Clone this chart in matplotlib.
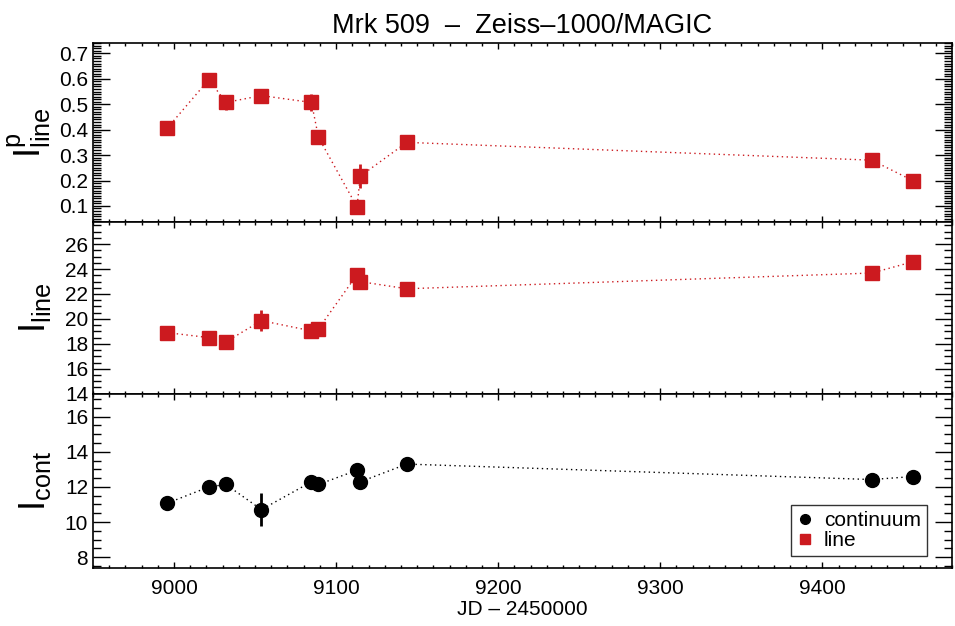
import matplotlib
matplotlib.use("Agg")
import matplotlib.pyplot as plt
from matplotlib.ticker import MultipleLocator
from matplotlib.lines import Line2D

plt.rcParams['font.family'] = ['Liberation Sans', 'DejaVu Sans']

# Dados (JD - 2450000)
jd = [8995.7, 9021.5, 9032.0, 9053.9, 9084.8, 9089.1, 9112.9, 9114.9, 9143.6, 9430.5, 9455.7]

pol_line = [0.405, 0.597, 0.507, 0.534, 0.507, 0.370, 0.096, 0.217, 0.350, 0.280, 0.200]
pol_line_err = [0.01, 0.01, 0.03, 0.01, 0.035, 0.01, 0.01, 0.046, 0.01, 0.01, 0.01]

flux_line = [18.9, 18.5, 18.16, 19.86, 19.04, 19.2, 23.55, 22.99, 22.42, 23.68, 24.58]
flux_line_err = [0.2, 0.2, 0.2, 0.87, 0.2, 0.2, 0.2, 0.2, 0.2, 0.2, 0.2]

flux_cont = [11.07, 12.0, 12.14, 10.71, 12.29, 12.14, 12.95, 12.29, 13.3, 12.42, 12.59]
flux_cont_err = [0.2, 0.2, 0.2, 0.93, 0.2, 0.2, 0.2, 0.2, 0.2, 0.2, 0.2]

RED = '#cc1a1f'

fig = plt.figure(figsize=(9.55, 6.26), dpi=100)
left, width = 93 / 955, 859 / 955
ax1 = fig.add_axes([left, 1 - 221.7 / 626, width, 179 / 626])
ax2 = fig.add_axes([left, 1 - 394.3 / 626, width, 172.6 / 626])
ax3 = fig.add_axes([left, 1 - 568.3 / 626, width, 174 / 626])

dotted = (0, (1, 2.5))

ax1.errorbar(jd, pol_line, yerr=pol_line_err, color=RED, marker='s', ms=10,
             ls=dotted, lw=1, elinewidth=2, capsize=0)
ax2.errorbar(jd, flux_line, yerr=flux_line_err, color=RED, marker='s', ms=10,
             ls=dotted, lw=1, elinewidth=2, capsize=0)
ax3.errorbar(jd, flux_cont, yerr=flux_cont_err, color='black', marker='o', ms=10,
             ls=dotted, lw=1, elinewidth=2, capsize=0)

ax1.set_ylim(0.038, 0.742)
ax2.set_ylim(13.95, 27.8)
ax3.set_ylim(7.37, 17.27)

ax1.yaxis.set_major_locator(MultipleLocator(0.1))
ax1.yaxis.set_minor_locator(MultipleLocator(0.01))
for ax in (ax2, ax3):
    ax.yaxis.set_major_locator(MultipleLocator(2))
    ax.yaxis.set_minor_locator(MultipleLocator(0.5))

for ax in (ax1, ax2, ax3):
    ax.set_xlim(8950, 9480)
    ax.xaxis.set_major_locator(MultipleLocator(100))
    ax.xaxis.set_minor_locator(MultipleLocator(10))
    ax.tick_params(which='both', direction='in', top=True, right=True, width=1)
    ax.tick_params(axis='y', which='major', length=12, labelsize=15)
    ax.tick_params(axis='y', which='minor', length=6)
    ax.tick_params(axis='x', which='major', length=4, labelsize=15, pad=8)
    ax.tick_params(axis='x', which='minor', length=2)
    for s in ax.spines.values():
        s.set_linewidth(1.2)
    ax.yaxis.set_label_coords(-0.046, 0.5)

ax1.yaxis.set_label_coords(-0.046, 0.57)

ax1.tick_params(axis='x', labelbottom=False)
ax2.tick_params(axis='x', labelbottom=False)
ax2.set_yticks([14, 16, 18, 20, 22, 24, 26])

ax1.set_ylabel(r'$\mathregular{I^{p}_{line}}$', fontsize=26)
ax2.set_ylabel(r'$\mathregular{I_{line}}$', fontsize=26)
ax3.set_ylabel(r'$\mathregular{I_{cont}}$', fontsize=26)

ax1.set_title('Mrk 509  \u2013  Zeiss\u20131000/MAGIC', fontsize=19.5, pad=7)
ax3.set_xlabel('JD \u2013 2450000', fontsize=15, labelpad=1)

handles = [
    Line2D([], [], color='black', marker='o', ls='none', ms=7, label='continuum'),
    Line2D([], [], color=RED, marker='s', ls='none', ms=7, label='line'),
]
leg = ax3.legend(handles=handles, loc='lower right', bbox_to_anchor=(0.971, 0.068),
                 borderaxespad=0, fontsize=15, frameon=True, fancybox=False,
                 handlelength=0.8, handletextpad=0.5, borderpad=0.3, labelspacing=0.05)
leg.get_frame().set_edgecolor('black')
leg.get_frame().set_linewidth(1)

plt.savefig('out.png', dpi=100)
